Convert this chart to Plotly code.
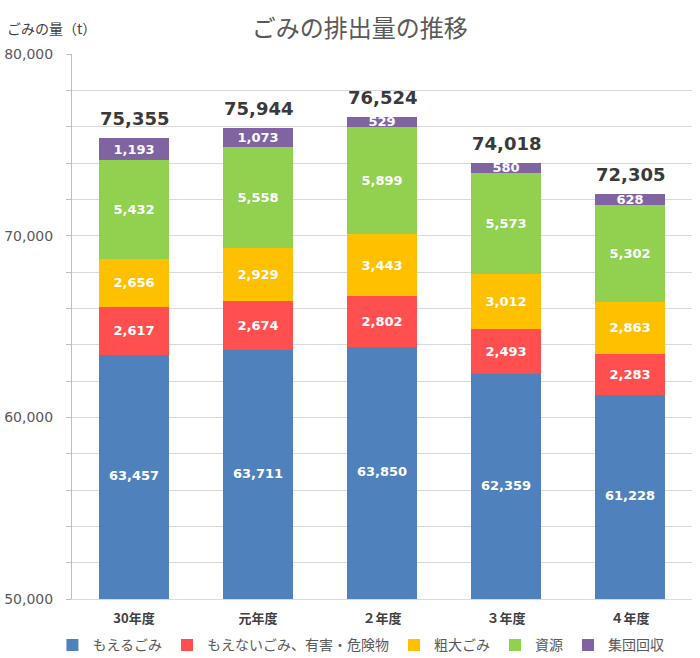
import plotly.graph_objects as go

# ── data ─────────────────────────────────────────────────────────────
YEARS = ["30年度", "元年度", "２年度", "３年度", "４年度"]
MOERU      = [63457, 63711, 63850, 62359, 61228]
MOENAI     = [2617, 2674, 2802, 2493, 2283]
SODAI      = [2656, 2929, 3443, 3012, 2863]
SHIGEN     = [5432, 5558, 5899, 5573, 5302]
SHUDAN     = [1193, 1073, 529, 580, 628]
TOTALS     = [75355, 75944, 76524, 74018, 72305]

SERIES = [
    ("もえるごみ", MOERU, "#4F81BD"),
    ("もえないごみ、有害・危険物", MOENAI, "#FF4F4F"),
    ("粗大ごみ", SODAI, "#FFC000"),
    ("資源", SHIGEN, "#92D050"),
    ("集団回収", SHUDAN, "#8064A2"),
]

Y_MIN, Y_MAX = 50000, 80000
JP = "Noto Sans CJK JP"
NUM = "DejaVu Sans"

fig = go.Figure()
for i, (name, vals, col) in enumerate(SERIES):
    fig.add_trace(go.Bar(
        x=YEARS, y=vals, name=name, marker_color=col,
        marker_line_width=0,
        text=None if i == 0 else [f"{v:,}" for v in vals],
        textposition="inside",
        insidetextanchor="middle", constraintext="none",
        textfont=dict(family=NUM, size=13, color="white", weight="bold"),
    ))

# first segment is cut by the axis floor -> label the visible part
fig.add_trace(go.Scatter(
    x=YEARS, y=[(Y_MIN + v) / 2 for v in MOERU], mode="text",
    text=[f"{v:,}" for v in MOERU],
    textfont=dict(family=NUM, size=13, color="white", weight="bold"),
    showlegend=False, hoverinfo="skip",
))

annos = [dict(x=yr, y=t, text=f"{t:,}", showarrow=False,
              xanchor="center", yanchor="bottom", yshift=7,
              font=dict(family=NUM, size=18, color="#3A3A3A", weight="bold"))
         for yr, t in zip(YEARS, TOTALS)]
annos.append(dict(text="ごみの量（t）", xref="paper", yref="paper",
                  x=-0.108, y=1.048, xanchor="left", yanchor="middle",
                  showarrow=False,
                  font=dict(family=JP, size=14, color="#404040")))

fig.update_layout(
    barmode="stack", bargap=0.435,
    width=700, height=658,
    margin=dict(l=72, r=8, t=54, b=59, autoexpand=False),
    plot_bgcolor="white", paper_bgcolor="white",
    title=dict(text="ごみの排出量の推移", x=0.514, xanchor="center",
               y=0.957, yanchor="middle",
               font=dict(family=JP, size=24, color="#595959")),
    legend=dict(orientation="h", x=0.466, xanchor="center", y=-0.085,
                yanchor="middle", font=dict(family=JP, size=14, color="#595959"),
                itemwidth=30, traceorder="normal"),
    annotations=annos,
)

fig.update_yaxes(
    range=[Y_MIN, Y_MAX], dtick=10000, tickformat=",",
    showgrid=True, gridcolor="#D9D9D9",
    showline=True, linecolor="#BFBFBF",
    ticks="outside", ticklen=5, tickcolor="#BFBFBF",
    minor=dict(dtick=2000, showgrid=True, gridcolor="#D9D9D9",
               ticks="outside", ticklen=5, tickcolor="#BFBFBF"),
    tickfont=dict(family=NUM, size=14, color="#595959"),
    ticklabelstandoff=10, zeroline=False, automargin=False,
)
fig.update_xaxes(
    showline=True, linecolor="#D9D9D9",
    tickfont=dict(family=JP, size=13, color="#404040", weight="bold"),
    ticklabelstandoff=7, automargin=False,
)

# drop the default 8px page margin so the figure sits at the window corner
fig.write_html("out.html", config={"displayModeBar": False},
               post_script=["document.body.style.margin = '0';"])
